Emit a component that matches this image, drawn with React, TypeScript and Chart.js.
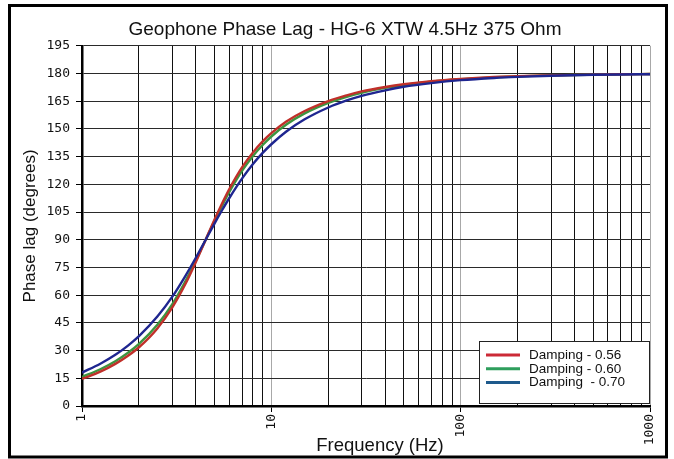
import React, { useEffect, useRef } from "react";
import { Chart, registerables } from "chart.js";

Chart.register(...registerables);

const TITLE = "Geophone Phase Lag - HG-6 XTW 4.5Hz 375 Ohm";
const X_TITLE = "Frequency (Hz)";
const Y_TITLE = "Phase lag (degrees)";

// Frequencies (Hz) at which the curves were read
const FREQ = [1, 1.25, 1.5, 1.75, 2, 2.5, 3, 3.5, 4, 4.5, 5, 5.5, 6, 7, 8, 9, 10, 12, 15, 20, 25, 30, 40, 50, 70, 100, 150, 200, 300, 500, 700, 1000];

// Phase lag (degrees)
const PHASE_056 = [14.7, 18.6, 22.8, 27.2, 31.8, 42.0, 53.4, 65.6, 78.1, 90.0, 100.7, 109.8, 117.5, 129.2, 137.3, 143.3, 147.7, 154.0, 159.7, 165.1, 168.2, 170.3, 172.7, 174.2, 175.9, 177.1, 178.1, 178.6, 179.0, 179.4, 179.6, 179.7];
const PHASE_060 = [15.7, 19.9, 24.2, 28.8, 33.6, 44.0, 55.2, 67.1, 78.9, 90.0, 100.0, 108.6, 115.9, 127.3, 135.4, 141.3, 145.9, 152.4, 158.4, 164.1, 167.4, 169.6, 172.2, 173.8, 175.6, 176.9, 177.9, 178.5, 179.0, 179.4, 179.6, 179.7];
const PHASE_070 = [18.1, 22.9, 27.7, 32.7, 37.8, 48.4, 59.2, 70.1, 80.4, 90.0, 98.6, 106.1, 112.6, 123.1, 131.0, 137.0, 141.7, 148.6, 155.2, 161.6, 165.4, 167.9, 170.9, 172.8, 174.8, 176.4, 177.6, 178.2, 178.8, 179.3, 179.5, 179.6];

const SERIES_LABELS = ["Damping - 0.56", "Damping - 0.60", "Damping  - 0.70"];

// Axis ticks
const X_GRID_TICKS = [1, 2, 3, 4, 5, 6, 7, 8, 9, 10, 20, 30, 40, 50, 60, 70, 80, 90, 100, 200, 300, 400, 500, 600, 700, 800, 900, 1000];
const X_LABELED_TICKS = [1, 10, 100, 1000];
const Y_MIN = 0;
const Y_MAX = 195;
const Y_STEP = 15;

const LINE_COLORS = ["#c0302a", "#3c9440", "#1f2690"];
const LEGEND_COLORS = ["#cc2a36", "#2e9e5c", "#1e5a8c"];
const DRAW_ORDER = [1, 2, 0];

const framePlugin = {
  id: "frame",
  beforeDraw(chart: any) {
    const ctx = chart.ctx;
    ctx.save();
    ctx.fillStyle = "#ffffff";
    ctx.fillRect(0, 0, chart.width, chart.height);
    ctx.restore();
  },
  afterDraw(chart: any) {
    const ctx = chart.ctx;
    ctx.save();
    // x-axis title, centred where the reference puts it
    ctx.fillStyle = "#111111";
    ctx.font = "18.5px 'Liberation Sans', Arial, sans-serif";
    ctx.textAlign = "center";
    ctx.textBaseline = "middle";
    ctx.fillText(X_TITLE, chart.chartArea.left + 298, 446);
    // outer frame
    ctx.strokeStyle = "#000000";
    ctx.lineWidth = 3;
    ctx.strokeRect(9.5, 5.5, 657, 451.5);
    ctx.restore();
  },
};

const boxLegendPlugin = {
  id: "boxLegend",
  afterDatasetsDraw(chart: any) {
    const ctx = chart.ctx;
    const area = chart.chartArea;
    const w = 171;
    const h = 63;
    const x0 = area.right - w;
    const y0 = area.bottom - 2 - h;
    ctx.save();
    ctx.fillStyle = "#ffffff";
    ctx.fillRect(x0, y0, w, h);
    ctx.strokeStyle = "#222222";
    ctx.lineWidth = 1;
    ctx.strokeRect(x0 + 0.5, y0 + 0.5, w - 1, h - 1);
    ctx.font = "13.5px 'Liberation Sans', Arial, sans-serif";
    ctx.textBaseline = "middle";
    ctx.textAlign = "left";
    chart.data.datasets.forEach((ds: any, i: number) => {
      const y = y0 + 14 + i * 13.8;
      ctx.strokeStyle = ds.legendColor;
      ctx.lineWidth = 3;
      ctx.beginPath();
      ctx.moveTo(x0 + 7, y);
      ctx.lineTo(x0 + 41, y);
      ctx.stroke();
      ctx.fillStyle = "#111111";
      ctx.fillText(ds.label, x0 + 50, y);
    });
    ctx.restore();
  },
};

export default function App() {
  const canvasRef = useRef<HTMLCanvasElement | null>(null);

  useEffect(() => {
    if (!canvasRef.current) return;
    const series = [PHASE_056, PHASE_060, PHASE_070];
    const datasets = series.map((vals, i) => ({
      label: SERIES_LABELS[i],
      data: FREQ.map((f, j) => ({ x: f, y: vals[j] })),
      borderColor: LINE_COLORS[i],
      legendColor: LEGEND_COLORS[i],
      backgroundColor: LINE_COLORS[i],
      borderWidth: 2.4,
      pointRadius: 0,
      showLine: true,
      order: DRAW_ORDER[i],
      cubicInterpolationMode: "monotone" as const,
      fill: false,
    }));

    const chart = new Chart(canvasRef.current, {
      type: "scatter",
      data: { datasets },
      plugins: [framePlugin, boxLegendPlugin],
      options: {
        animation: false,
        responsive: false,
        devicePixelRatio: 1,
        layout: { padding: { top: 11, left: 40, right: 24, bottom: 0 } },
        plugins: {
          legend: { display: false },
          tooltip: { enabled: false },
          title: {
            display: true,
            text: TITLE,
            color: "#111111",
            font: { family: "'Liberation Sans', Arial, sans-serif", size: 19, weight: "normal" },
            padding: { top: 7, bottom: 5 },
          },
        },
        scales: {
          x: {
            type: "logarithmic",
            min: 1,
            max: 1000,
            afterBuildTicks: (scale: any) => {
              scale.ticks = X_GRID_TICKS.map((v) => ({ value: v }));
            },
            afterFit: (scale: any) => {
              scale.height = 53;
            },
            ticks: {
              autoSkip: false,
              minRotation: 90,
              maxRotation: 90,
              padding: 2,
              color: "#111111",
              font: { family: "'DejaVu Sans Mono', monospace", size: 13 },
              callback: (value: any) => (X_LABELED_TICKS.includes(Number(value)) ? String(value) : ""),
            },
            grid: {
              color: (ctx: any) => {
                const v = ctx.tick ? ctx.tick.value : 0;
                if (v === 10 || v === 100 || v === 1000) return "#a8a8a8";
                return "#111111";
              },
              lineWidth: 1,
              drawTicks: true,
              tickLength: 6,
              tickColor: (ctx: any) => {
                const v = ctx.tick ? ctx.tick.value : 0;
                return X_LABELED_TICKS.includes(v) ? "#000000" : "rgba(0,0,0,0)";
              },
            },
            border: { display: true, color: "#000000", width: 2.5 },
            title: { display: false, text: X_TITLE },
          },
          y: {
            type: "linear",
            min: Y_MIN,
            max: Y_MAX,
            afterFit: (scale: any) => {
              scale.width = 42;
            },
            ticks: {
              stepSize: Y_STEP,
              padding: 6,
              color: "#111111",
              font: { family: "'DejaVu Sans Mono', monospace", size: 13 },
            },
            grid: {
              color: "#2a2a2a",
              lineWidth: 1,
              drawTicks: true,
              tickLength: 6,
              tickColor: "#000000",
            },
            border: { display: true, color: "#000000", width: 2.5 },
            title: {
              display: true,
              text: Y_TITLE,
              color: "#111111",
              font: { family: "'Liberation Sans', Arial, sans-serif", size: 17, weight: "normal" },
              padding: { top: -20, bottom: 0 },
            },
          },
        },
      } as any,
    });
    return () => chart.destroy();
  }, []);

  return (
    <div style={{ position: "absolute", left: 0, top: 0, width: 674, height: 459 }}>
      <canvas ref={canvasRef} width={674} height={459} style={{ width: 674, height: 459 }} />
    </div>
  );
}
